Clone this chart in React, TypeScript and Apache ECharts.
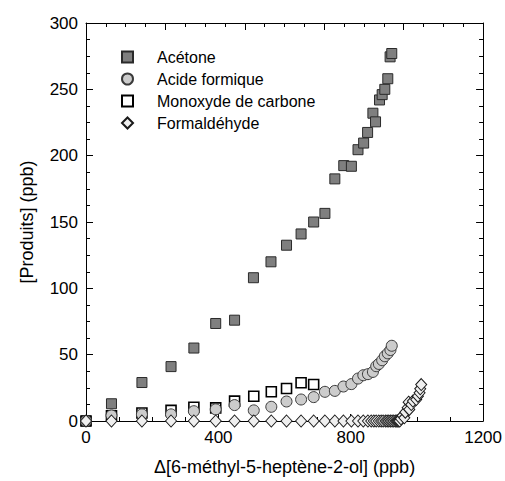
import React, { useEffect, useRef } from "react";
import * as echarts from "echarts";

const FONT = '"Liberation Sans", Arial, Helvetica, sans-serif';

const seriesNames = ["Acétone", "Acide formique", "Monoxyde de carbone", "Formaldéhyde"];

const acetoneX = [0, 77, 169, 257, 326, 392, 449, 506, 559, 606, 650, 688, 722, 752, 779, 802, 822, 839, 851, 867, 875, 887, 895, 903, 912, 919, 924];
const acetoneY = [0, 13, 29, 41, 55, 73.5, 76, 108, 120, 132.5, 141, 150, 156.5, 182.5, 192.5, 192, 204.5, 209.5, 217.5, 232, 225.5, 242, 246, 250, 258, 274.5, 277];

const formicX = [0, 77, 169, 257, 326, 392, 449, 507, 560, 606, 650, 688, 722, 752, 778, 802, 822, 838, 852, 867, 877, 885, 895, 903, 912, 920, 924];
const formicY = [0, 4.2, 5, 5, 7.4, 8.8, 12, 8, 10.7, 14.7, 16.2, 18, 22, 22.7, 26, 27.8, 32, 34.5, 35.3, 37, 41.3, 43, 45.8, 48.8, 51, 53.5, 56.7];

const coX = [0, 77, 169, 257, 326, 392, 449, 507, 560, 606, 650, 688];
const coY = [0, 4, 6, 8, 10.4, 9.9, 15, 18.7, 22, 24.5, 28.8, 27.5];

const formaldX = [0, 77, 169, 257, 326, 392, 449, 507, 560, 606, 650, 688, 722, 752, 778, 802, 822, 838, 852, 862, 870, 877, 885, 892, 898, 905, 910, 915, 920, 925, 930, 935, 939, 942, 945, 948, 952, 957, 962, 965, 972, 975, 977, 983, 988, 998, 1003, 1008, 1010, 1013];
const formaldY = [0, 0, 0, 0, 0, 0, 0, 0, 0, 0, 0, 0, 0, 0, 0, 0, 0, 0, 0, 0, 0, 0, 0, 0, 0, 0, 0, 0, 0, 0, 0, 0, 0, 0, 0, 0, 1.7, 4.1, 2.4, 6.6, 10, 14.2, 8.7, 12.4, 15, 16.2, 18.7, 21.2, 24.3, 27.5];

const xTitle = "Δ[6-méthyl-5-heptène-2-ol] (ppb)";
const yTitle = "[Produits] (ppb)";

const zip = (xs: number[], ys: number[]) => xs.map((x, i) => [x, ys[i]]);

export default function App() {
  const ref = useRef<HTMLDivElement>(null);
  useEffect(() => {
    if (!ref.current) return;
    const chart = echarts.init(ref.current, undefined, { renderer: "svg" });
    const axisLine = { show: true, onZero: false, lineStyle: { color: "#000", width: 1 } };
    const tickStyle = { show: true, inside: true, length: 7, lineStyle: { color: "#000", width: 1 } };
    const minorTick = { show: true, splitNumber: 4, length: 4, lineStyle: { color: "#000", width: 1 } };
    const labelStyle = { fontFamily: FONT, fontSize: 17, color: "#000", formatter: (v: number) => String(v) };
    chart.setOption({
      animation: false,
      backgroundColor: "#fff",
      textStyle: { fontFamily: FONT },
      grid: { left: 86, right: 21, top: 23, bottom: 59.5, containLabel: false },
      legend: {
        show: true,
        orient: "vertical",
        left: 121,
        top: 49,
        padding: 0,
        itemWidth: 11,
        itemHeight: 11,
        itemGap: 6,
        data: seriesNames,
        textStyle: { fontFamily: FONT, fontSize: 16, color: "#000", lineHeight: 16, padding: [0, 0, 0, 19] },
      },
      xAxis: [
        {
          type: "value", position: "bottom", min: 0, max: 1200, interval: 400,
          axisLine, axisTick: tickStyle, minorTick, splitLine: { show: false },
          axisLabel: { ...labelStyle, margin: 8 },
          name: xTitle, nameLocation: "middle", nameGap: 37,
          nameTextStyle: { fontFamily: FONT, fontSize: 18, color: "#000" },
        },
        {
          type: "value", position: "top", min: 0, max: 1200, interval: 240,
          axisLine, axisTick: tickStyle, minorTick, splitLine: { show: false },
          axisLabel: { show: false },
        },
      ],
      yAxis: [
        {
          type: "value", position: "left", min: 0, max: 300, interval: 50,
          axisLine, axisTick: tickStyle, minorTick, splitLine: { show: false },
          axisLabel: { ...labelStyle, margin: 8 },
          name: yTitle, nameLocation: "middle", nameGap: 50,
          nameTextStyle: { fontFamily: FONT, fontSize: 18, color: "#000" },
        },
        {
          type: "value", position: "right", min: 0, max: 300, interval: 50,
          axisLine, axisTick: tickStyle, minorTick, splitLine: { show: false },
          axisLabel: { show: false },
        },
      ],
      series: [
        {
          name: seriesNames[0], type: "scatter", symbol: "rect", symbolSize: 10, clip: false, z: 2,
          itemStyle: { color: "#7f7f7f", borderColor: "#2a2a2a", borderWidth: 1, opacity: 1 },
          data: zip(acetoneX, acetoneY),
        },
        {
          name: seriesNames[1], type: "scatter", symbol: "circle", symbolSize: 11, clip: false, z: 4,
          itemStyle: { color: "#cccccc", borderColor: "#3a3a3a", borderWidth: 1, opacity: 1 },
          data: zip(formicX, formicY),
        },
        {
          name: seriesNames[2], type: "scatter", symbol: "rect", symbolSize: 10, clip: false, z: 3,
          itemStyle: { color: "#ffffff", borderColor: "#000", borderWidth: 1.6, opacity: 1 },
          data: zip(coX, coY),
        },
        {
          name: seriesNames[3], type: "scatter", symbol: "diamond", symbolSize: [11, 12], clip: false, z: 5,
          itemStyle: { color: "#efefef", borderColor: "#1a1a1a", borderWidth: 1, opacity: 1 },
          data: zip(formaldX, formaldY),
        },
      ],
    });
    return () => chart.dispose();
  }, []);
  return <div ref={ref} style={{ width: 505, height: 481, position: "absolute", left: 0, top: 0 }} />;
}
